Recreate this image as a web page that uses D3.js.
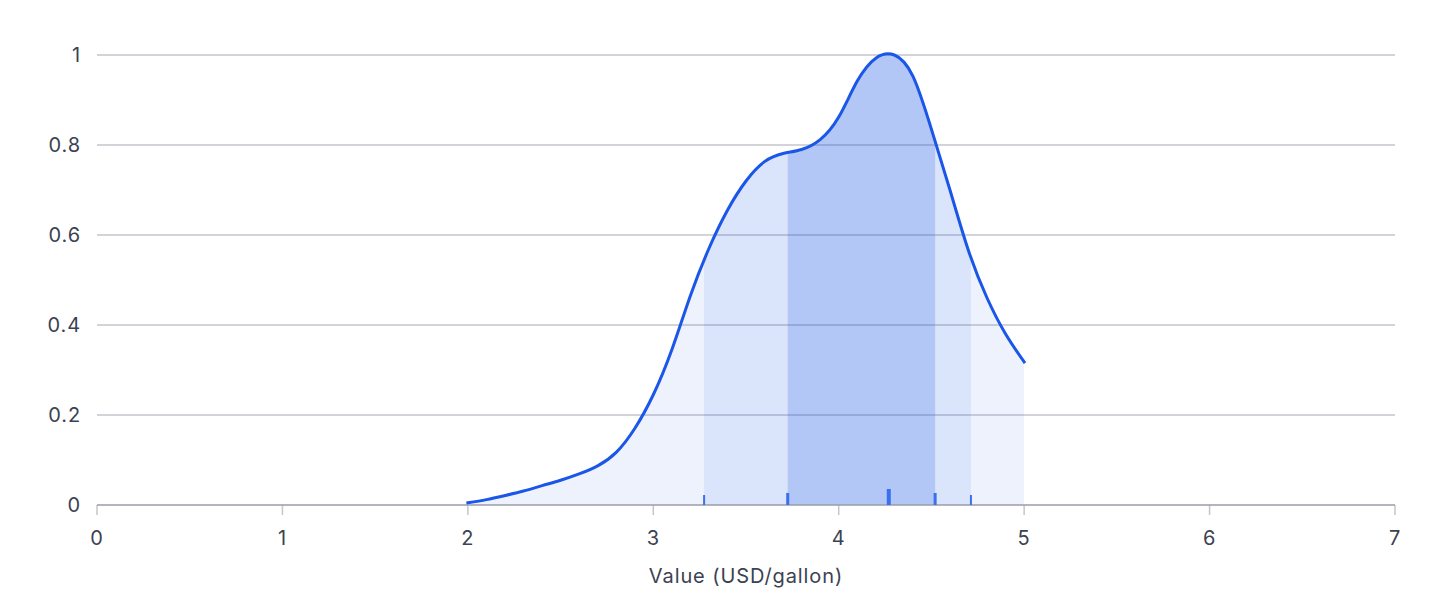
<!DOCTYPE html>
<html>
<head>
<meta charset="utf-8">
<script src="https://cdn.jsdelivr.net/npm/d3@7"></script>
<style>
  body { margin: 0; background: #fff; }
  text { font-family: Inter, "Noto Sans", sans-serif; letter-spacing: 0.9px; }
</style>
</head>
<body>
<script>
// Density curve (value in USD/gallon, scaled density)
const curveX = [2.0, 2.1, 2.2, 2.3, 2.4, 2.5, 2.6, 2.7, 2.8, 2.9, 3.0, 3.1, 3.2, 3.3, 3.4, 3.5, 3.6, 3.7, 3.8, 3.9, 4.0, 4.1, 4.2, 4.3, 4.4, 4.5, 4.6, 4.7, 4.8, 4.9, 5.0];
const curveY = [0.005, 0.012, 0.021, 0.031, 0.043, 0.055, 0.069, 0.087, 0.117, 0.17, 0.245, 0.345, 0.465, 0.57, 0.655, 0.72, 0.763, 0.781, 0.79, 0.812, 0.862, 0.942, 0.993, 1.0, 0.953, 0.835, 0.7, 0.565, 0.46, 0.38, 0.318];

// Shaded intervals (outer range, 5–95 %, 25–75 %)
const bandStart = [2.0, 3.274, 3.725];
const bandEnd = [5.0, 4.713, 4.52];
const bandAlpha = [0.08, 0.085, 0.2];

// Quantile markers on the baseline
const quantiles = [3.274, 3.725, 4.27, 4.52, 4.713];
const quantileHeight = [10, 12, 16, 12, 10];
const quantileWidth = [2, 3, 4, 3, 2];

const xTicks = [0, 1, 2, 3, 4, 5, 6, 7];
const yTicks = [0, 0.2, 0.4, 0.6, 0.8, 1];

const W = 1456, H = 590;
const margin = { top: 55, right: 61, bottom: 85, left: 97 };
const width = W - margin.left - margin.right;
const height = H - margin.top - margin.bottom;
const blue = "#1a56e8";
const fontSize = "20px";

const data = curveX.map((v, i) => ({ x: v, y: curveY[i] }));

const x = d3.scaleLinear().domain([0, 7]).range([0, width]);
const y = d3.scaleLinear().domain([0, 1]).range([height, 0]);

const svg = d3.select("body").append("svg")
    .attr("width", W)
    .attr("height", H);

const g = svg.append("g")
    .attr("transform", `translate(${margin.left},${margin.top})`);

// Gridlines
g.append("g")
    .selectAll("line")
    .data(yTicks.filter(d => d > 0))
    .join("line")
    .attr("x1", 0)
    .attr("x2", width)
    .attr("y1", d => y(d))
    .attr("y2", d => y(d))
    .attr("stroke", "#c3c6ce")
    .attr("stroke-width", 1.3);

// Y labels
g.append("g")
    .selectAll("text")
    .data(yTicks)
    .join("text")
    .attr("x", -16)
    .attr("y", d => y(d))
    .attr("dy", "0.35em")
    .attr("text-anchor", "end")
    .attr("fill", "#3b4252")
    .style("font-size", fontSize)
    .text(d => d3.format("~g")(d));

const curve = d3.curveNatural;

const area = d3.area()
    .x(d => x(d.x))
    .y0(y(0))
    .y1(d => y(d.y))
    .curve(curve);

const line = d3.line()
    .x(d => x(d.x))
    .y(d => y(d.y))
    .curve(curve);

g.append("clipPath")
    .attr("id", "under")
    .append("path")
    .attr("d", area(data));

// Bands clipped to the area under the curve
g.append("g")
    .attr("clip-path", "url(#under)")
    .selectAll("rect")
    .data(bandStart)
    .join("rect")
    .attr("x", (d, i) => x(d))
    .attr("width", (d, i) => x(bandEnd[i]) - x(d))
    .attr("y", 0)
    .attr("height", height)
    .attr("fill", blue)
    .attr("fill-opacity", (d, i) => bandAlpha[i]);

// X axis
const xAxis = g.append("g")
    .attr("transform", `translate(0,${height})`);

xAxis.selectAll("line.tick")
    .data(xTicks)
    .join("line")
    .attr("class", "tick")
    .attr("x1", d => x(d))
    .attr("x2", d => x(d))
    .attr("y1", 0)
    .attr("y2", 10)
    .attr("stroke", "#c3c6ce")
    .attr("stroke-width", 1.5);

xAxis.append("line")
    .attr("x1", 0)
    .attr("x2", width)
    .attr("stroke", "#9a9da8")
    .attr("stroke-width", 1.5);

xAxis.selectAll("text")
    .data(xTicks)
    .join("text")
    .attr("x", d => x(d))
    .attr("y", 33)
    .attr("dy", "0.35em")
    .attr("text-anchor", "middle")
    .attr("fill", "#3b4252")
    .style("font-size", fontSize)
    .text(d => d);

g.append("text")
    .attr("x", width / 2)
    .attr("y", height + 71)
    .attr("dy", "0.35em")
    .attr("text-anchor", "middle")
    .attr("fill", "#3b4252")
    .style("font-size", fontSize)
    .text("Value (USD/gallon)");

// Quantile markers
g.append("g")
    .selectAll("rect")
    .data(quantiles)
    .join("rect")
    .attr("x", (d, i) => x(d) - quantileWidth[i] / 2)
    .attr("y", (d, i) => height - quantileHeight[i])
    .attr("width", (d, i) => quantileWidth[i])
    .attr("height", (d, i) => quantileHeight[i])
    .attr("fill", "#3a6ff0");

// Density line
g.append("path")
    .attr("d", line(data))
    .attr("fill", "none")
    .attr("stroke", blue)
    .attr("stroke-width", 3)
    .attr("stroke-linecap", "square");
</script>
</body>
</html>
